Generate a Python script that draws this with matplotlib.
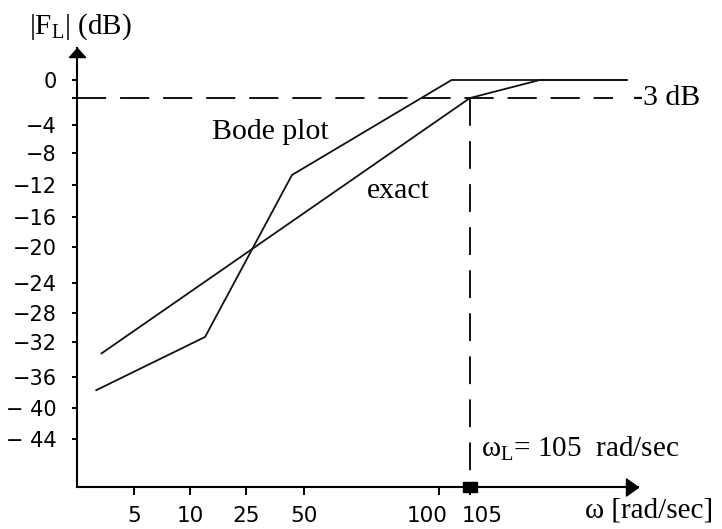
import numpy as np
import matplotlib
matplotlib.use("Agg")
import matplotlib.pyplot as plt
from matplotlib.transforms import ScaledTranslation

# ---------------- data ----------------
bode_w = [3.16, 12.8, 43.3, 102, 860]          # rad/sec
bode_db = [-37.7, -31.3, -10.75, 0, 0]          # dB
exact_w = [3.37, 105, 268, 860]
exact_db = [-33.3, -3, 0, 0]
corner_w = 105                                  # omega_L
cutoff_db = -3
x_ticks = [5, 10, 25, 50, 100, 105]
x_ticklabels = ["5", "10", "25", "50", "100", "105"]
y_ticks = [0, -4, -8, -12, -16, -20, -24, -28, -32, -36, -40, -44]
y_ticklabels = ["0", "\u22124", "\u22128", "\u221212", "\u221216", "\u221220",
                "\u221224", "\u221228", "\u221232", "\u221236", "\u2212 40", "\u2212 44"]

# ---------------- layout (schematic axis scales) ----------------
W, H = 722, 529
X_ANCHOR_W = np.log10([2.5, 5, 10, 25, 50, 100, 105, 1000])
X_ANCHOR_PX = np.array([77, 134, 190, 246, 304, 439, 470, 638], float)
Y_ANCHOR_DB = np.array([-50, -44, -40, -36, -32, -28, -24, -20, -16, -12, -8, -4, -3, 0, 4], float)
Y_ANCHOR_PX = -np.array([487, 439, 408, 377, 342, 313, 283, 247, 217, 185, 153, 125, 98, 80, 48], float)


def interp_ext(xa, ya):
    xa = np.asarray(xa, float)
    ya = np.asarray(ya, float)

    def f(x):
        x = np.asarray(x, float)
        y = np.interp(x, xa, ya)
        lo_s = (ya[1] - ya[0]) / (xa[1] - xa[0])
        hi_s = (ya[-1] - ya[-2]) / (xa[-1] - xa[-2])
        y = np.where(x < xa[0], ya[0] + (x - xa[0]) * lo_s, y)
        y = np.where(x > xa[-1], ya[-1] + (x - xa[-1]) * hi_s, y)
        return y
    return f


_xf = interp_ext(X_ANCHOR_W, X_ANCHOR_PX)
_xi = interp_ext(X_ANCHOR_PX, X_ANCHOR_W)
x_fwd = lambda w: _xf(np.log10(np.maximum(np.asarray(w, float), 1e-300)))
x_inv = lambda p: 10.0 ** _xi(p)
y_fwd = interp_ext(Y_ANCHOR_DB, Y_ANCHOR_PX)
y_inv = interp_ext(Y_ANCHOR_PX, Y_ANCHOR_DB)

plt.rcParams["lines.scale_dashes"] = False
plt.rcParams["mathtext.fontset"] = "custom"
plt.rcParams["mathtext.rm"] = "Liberation Serif"
plt.rcParams["mathtext.it"] = "Liberation Serif:italic"

fig = plt.figure(figsize=(W / 100, H / 100), dpi=100)
ax = fig.add_axes([77 / W, 1 - 487 / H, (638 - 77) / W, (487 - 48) / H])
ax.set_xscale("function", functions=(x_fwd, x_inv))
ax.set_yscale("function", functions=(y_fwd, y_inv))
ax.set_xlim(2.5, 1000)
ax.set_ylim(-50, 4)

for s in ("top", "right"):
    ax.spines[s].set_visible(False)
for s in ("left", "bottom"):
    ax.spines[s].set_linewidth(1.5)

ink = "#111111"
ax.plot(bode_w, bode_db, color=ink, lw=1.3, solid_joinstyle="miter")
ax.plot(exact_w, exact_db, color=ink, lw=1.3)

# -3 dB dashed line and omega_L vertical dashed line
ax.axhline(cutoff_db, xmin=0, xmax=(613 - 77) / (638 - 77), color=ink, lw=1.4,
           dashes=(21, 10))
ybot = ax.get_ylim()[0]
ax.plot([corner_w, corner_w], [cutoff_db, ybot], color=ink, lw=1.4, dashes=(20, 11))
ax.plot([corner_w], [ybot], marker=[(-6.5, -4.5), (6.5, -4.5), (6.5, 4.5), (-6.5, 4.5), (-6.5, -4.5)],
        ms=9.4, color="k", clip_on=False, zorder=5)

# ticks
ax.set_xticks(x_ticks)
ax.set_xticklabels(x_ticklabels)
ax.set_yticks(y_ticks)
ax.set_yticklabels(y_ticklabels)
ax.set_yticks([cutoff_db], minor=True)
ax.set_xticks([], minor=True)
ax.tick_params(axis="y", which="both", direction="out", length=3.8, width=1.4, pad=11,
               labelsize=15, colors="k")
ax.tick_params(axis="y", which="minor", labelleft=False)
ax.tick_params(axis="x", direction="out", length=5.8, width=1.4, pad=8, labelsize=15.5, colors="k")

labs = ax.get_xticklabels()
labs[4].set_transform(labs[4].get_transform() + ScaledTranslation(-0.12, 0, fig.dpi_scale_trans))
labs[5].set_transform(labs[5].get_transform() + ScaledTranslation(0.12, 0, fig.dpi_scale_trans))

# arrow heads
ax.plot([0], [1], marker=[(0, 0), (-8, -9), (8, -9), (0, 0)], ms=13, color="k",
        transform=ax.transAxes, clip_on=False)
ax.plot([1], [0], marker=[(0, 0), (-12, 8.5), (-12, -8.5), (0, 0)], ms=17.3, color="k",
        transform=ax.transAxes, clip_on=False)

serif = "Liberation Serif"
fx = lambda p: p / W
fy = lambda p: 1 - p / H
fig.text(fx(80), fy(27), r"|F$_\mathrm{L}$| (dB)", ha="center", va="center", fontsize=21, family=serif)
fig.text(fx(212), fy(139), "Bode plot", ha="left", va="baseline", fontsize=21.5, family=serif)
fig.text(fx(367), fy(198), "exact", ha="left", va="baseline", fontsize=21.5, family=serif)
fig.text(fx(633), fy(105), "-3 dB", ha="left", va="baseline", fontsize=21.5, family=serif)
fig.text(fx(481), fy(457), r"ω$_\mathrm{L}$= 105  rad/sec", ha="left", va="baseline", fontsize=21, family=serif)
fig.text(fx(585), fy(518), "ω [rad/sec]", ha="left", va="baseline", fontsize=21, family=serif)

fig.savefig("out.png", dpi=100, facecolor="white")
